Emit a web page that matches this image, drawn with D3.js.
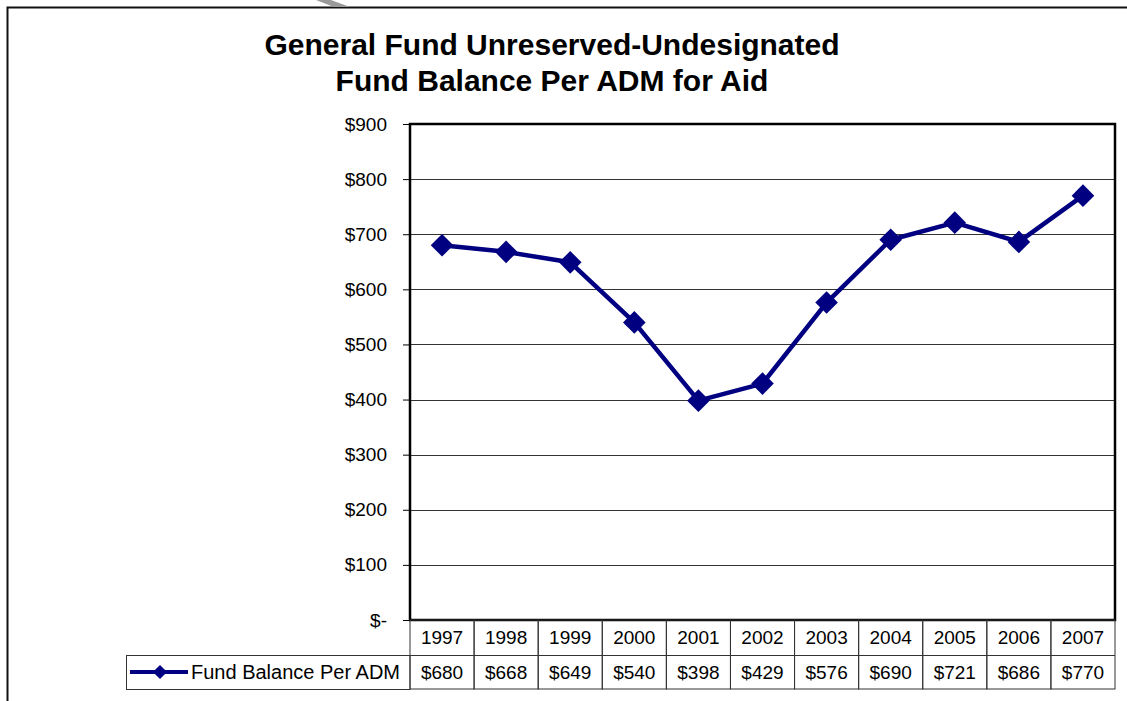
<!DOCTYPE html>
<html>
<head>
<meta charset="utf-8">
<script src="https://cdn.jsdelivr.net/npm/d3@7"></script>
<style>
  body { margin: 0; background: #fff; }
  svg { display: block; font-family: Arial, "Liberation Sans", sans-serif; }
</style>
</head>
<body>
<svg id="vis" width="1127" height="701"></svg>
<script>
// chart data
const years = ["1997", "1998", "1999", "2000", "2001", "2002", "2003", "2004", "2005", "2006", "2007"];
const balances = [680, 668, 649, 540, 398, 429, 576, 690, 721, 686, 770];
const yTicks = [0, 100, 200, 300, 400, 500, 600, 700, 800, 900];
const seriesName = "Fund Balance Per ADM";
const titleLines = ["General Fund Unreserved-Undesignated", "Fund Balance Per ADM for Aid"];

const svg = d3.select('#vis');
const lineColor = "#000080";

const plot = {left: 410, top: 124, right: 1115, bottom: 620};
const rowH = [35, 34];

// frame around the chart
svg.append('path')
    .attr('d', "M7.5,701 V7.5 H1127")
    .attr('fill', 'none')
    .attr('stroke', '#111')
    .attr('stroke-width', 2);
svg.append('polygon')
    .attr('points', "316,0 331,0 350,7 334,7")
    .attr('fill', '#9a9a9a');

// title
svg.append('text')
    .attr('text-anchor', 'middle')
    .attr('font-weight', 'bold')
    .attr('font-size', 30)
    .selectAll('tspan')
    .data(titleLines)
    .enter().append('tspan')
    .attr('x', 552)
    .attr('y', function (d, i) { return 55 + i * 36; })
    .text(function (d) { return d; });

const x = d3.scaleBand()
    .domain(years)
    .range([plot.left, plot.right]);

const y = d3.scaleLinear()
    .domain([0, 900])
    .range([plot.bottom, plot.top]);

// gridlines
svg.append('g')
    .selectAll('line')
    .data(yTicks.filter(function (d) { return d > 0 && d < 900; }))
    .enter().append('line')
    .attr('x1', plot.left)
    .attr('x2', plot.right)
    .attr('y1', function (d) { return Math.round(y(d)) + 0.5; })
    .attr('y2', function (d) { return Math.round(y(d)) + 0.5; })
    .attr('stroke', '#333')
    .attr('stroke-width', 1);

// y axis
const yAxis = d3.axisLeft(y)
    .tickValues(yTicks)
    .tickSize(7)
    .tickPadding(16)
    .tickFormat(function (d) { return d === 0 ? "$-" : "$" + d; });

const yG = svg.append('g')
    .attr('transform', 'translate(' + plot.left + ',0)')
    .call(yAxis);
yG.attr('font-size', 19).attr('font-family', null);
yG.select('.domain').remove();
yG.selectAll('.tick line').attr('stroke', '#000');
yG.selectAll('.tick text').attr('fill', '#000');

// plot border
svg.append('rect')
    .attr('x', plot.left)
    .attr('y', plot.top)
    .attr('width', plot.right - plot.left)
    .attr('height', plot.bottom - plot.top)
    .attr('fill', 'none')
    .attr('stroke', '#000')
    .attr('stroke-width', 2.5);

// data table
const table = svg.append('g');
const row1 = plot.bottom + rowH[0];

table.selectAll('.cell')
    .data(years)
    .enter().append('rect')
    .attr('x', function (d) { return x(d); })
    .attr('y', plot.bottom)
    .attr('width', x.bandwidth())
    .attr('height', rowH[0] + rowH[1])
    .attr('fill', 'none')
    .attr('stroke', '#333')
    .attr('stroke-width', 1);

table.append('line')
    .attr('x1', 126).attr('x2', plot.right)
    .attr('y1', row1 + 0.5).attr('y2', row1 + 0.5)
    .attr('stroke', '#333');
table.append('rect')
    .attr('x', 126.5)
    .attr('y', row1 + 0.5)
    .attr('width', plot.left - 126.5)
    .attr('height', rowH[1])
    .attr('fill', 'none')
    .attr('stroke', '#333');

table.selectAll('.yr')
    .data(years)
    .enter().append('text')
    .attr('x', function (d) { return x(d) + x.bandwidth() / 2; })
    .attr('y', plot.bottom + 24)
    .attr('text-anchor', 'middle')
    .attr('font-size', 19)
    .text(function (d) { return d; });

table.selectAll('.val')
    .data(balances)
    .enter().append('text')
    .attr('x', function (d, i) { return x(years[i]) + x.bandwidth() / 2; })
    .attr('y', row1 + 24)
    .attr('text-anchor', 'middle')
    .attr('font-size', 19)
    .text(function (d) { return "$" + d; });

// legend key in table
table.append('line')
    .attr('x1', 130).attr('x2', 188)
    .attr('y1', row1 + 17).attr('y2', row1 + 17)
    .attr('stroke', lineColor)
    .attr('stroke-width', 4);
table.append('rect')
    .attr('x', -5).attr('y', -5)
    .attr('width', 10).attr('height', 10)
    .attr('fill', lineColor)
    .attr('transform', 'translate(160,' + (row1 + 17) + ') rotate(45)');
table.append('text')
    .attr('x', 191)
    .attr('y', row1 + 24)
    .attr('font-size', 20)
    .text(seriesName);

// series line
const line = d3.line()
    .x(function (d, i) { return x(years[i]) + x.bandwidth() / 2; })
    .y(function (d) { return y(d); });

svg.append('path')
    .datum(balances)
    .attr('d', line)
    .attr('fill', 'none')
    .attr('stroke', lineColor)
    .attr('stroke-width', 4.5)
    .attr('stroke-linejoin', 'round');

svg.selectAll('.marker')
    .data(balances)
    .enter().append('rect')
    .attr('class', 'marker')
    .attr('x', -8).attr('y', -8)
    .attr('width', 16).attr('height', 16)
    .attr('fill', lineColor)
    .attr('transform', function (d, i) {
        return 'translate(' + (x(years[i]) + x.bandwidth() / 2) + ',' + y(d) + ') rotate(45)';
    });
</script>
</body>
</html>
